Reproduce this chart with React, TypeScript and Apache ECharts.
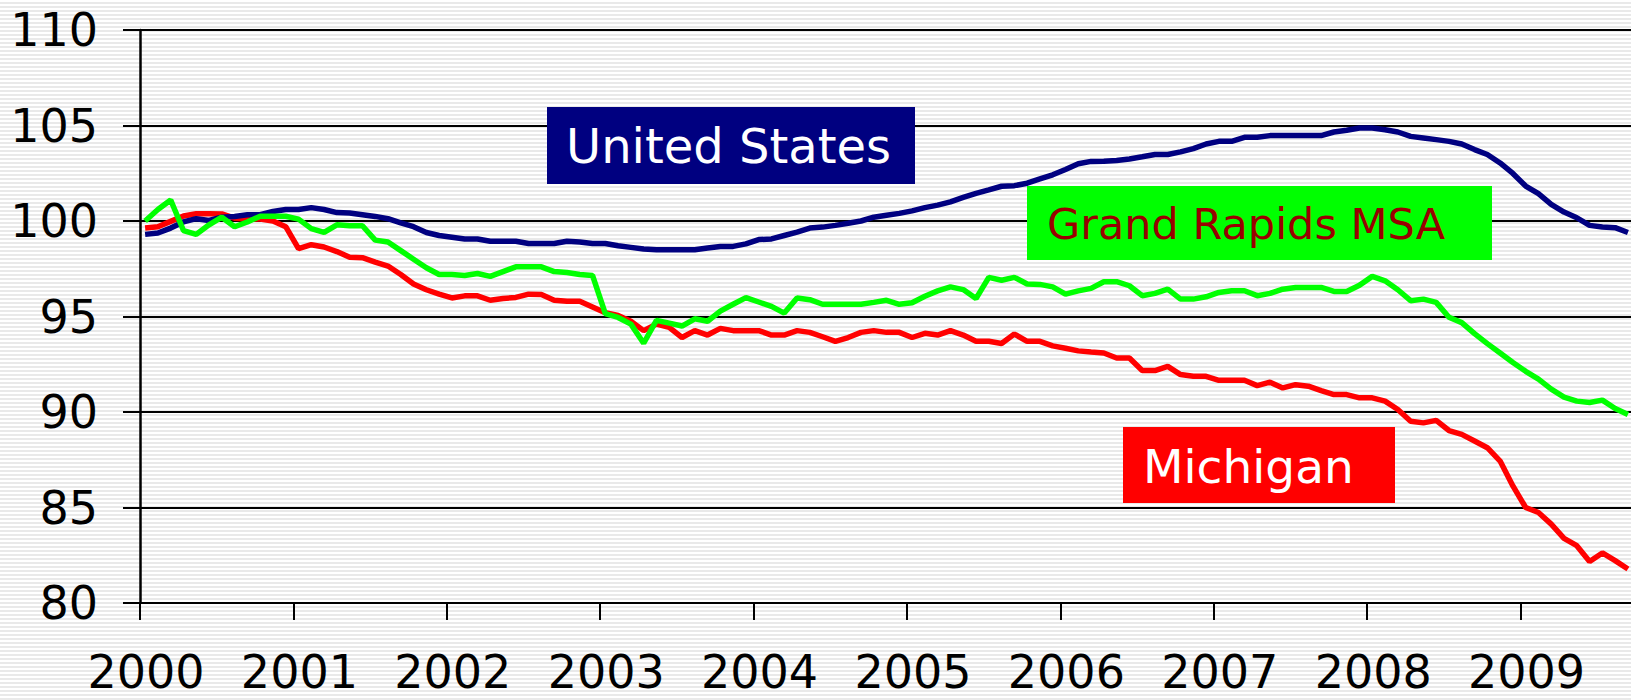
import React, { useEffect, useRef } from "react";
import * as echarts from "echarts";

// Monthly index values, Jan 2000 .. Sep 2009 (index, Jan 2000 = 100)
const startYear = 2000;
const yearTicks = [2000, 2001, 2002, 2003, 2004, 2005, 2006, 2007, 2008, 2009];
const yTicks = [80, 85, 90, 95, 100, 105, 110];

const unitedStates = [
  99.3, 99.37, 99.63, 99.95, 100.12, 100.03, 100.2, 100.24, 100.33, 100.33, 100.5, 100.6,
  100.6, 100.7, 100.6, 100.44, 100.42, 100.33, 100.24, 100.12, 99.9, 99.7, 99.4, 99.24,
  99.15, 99.06, 99.06, 98.94, 98.94, 98.94, 98.82, 98.82, 98.82, 98.94, 98.9, 98.82,
  98.82, 98.7, 98.62, 98.53, 98.5, 98.5, 98.5, 98.5, 98.59, 98.67, 98.67, 98.8,
  99.03, 99.06, 99.24, 99.42, 99.63, 99.68, 99.77, 99.88, 100.0, 100.2, 100.3, 100.4,
  100.53, 100.7, 100.83, 101.0, 101.24, 101.45, 101.63, 101.82, 101.85, 101.98, 102.2, 102.42,
  102.7, 103.0, 103.12, 103.13, 103.17, 103.25, 103.36, 103.48, 103.48, 103.62, 103.79, 104.03,
  104.17, 104.17, 104.38, 104.38, 104.47, 104.47, 104.47, 104.47, 104.47, 104.66, 104.75, 104.87,
  104.87, 104.78, 104.66, 104.43, 104.35, 104.26, 104.17, 104.03, 103.74, 103.48, 103.04, 102.49,
  101.83, 101.43, 100.87, 100.47, 100.17, 99.77, 99.69, 99.65, 99.4,
];

const grandRapids = [
  100.0, 100.6, 101.1, 99.5, 99.3, 99.8, 100.2, 99.7, 99.95, 100.25, 100.25, 100.25,
  100.1, 99.6, 99.4, 99.8, 99.75, 99.75, 99.0, 98.9, 98.45, 98.0, 97.55, 97.2,
  97.2, 97.15, 97.25, 97.1, 97.35, 97.6, 97.6, 97.6, 97.35, 97.3, 97.2, 97.15,
  95.15, 94.95, 94.6, 93.6, 94.8, 94.65, 94.5, 94.88, 94.75, 95.28, 95.64, 95.99,
  95.76, 95.53, 95.18, 95.97, 95.88, 95.64, 95.64, 95.64, 95.64, 95.74, 95.85, 95.64,
  95.72, 96.06, 96.34, 96.55, 96.41, 95.94, 97.05, 96.9, 97.05, 96.7, 96.68, 96.55,
  96.17, 96.34, 96.47, 96.82, 96.82, 96.61, 96.09, 96.21, 96.43, 95.91, 95.91, 96.03,
  96.26, 96.35, 96.35, 96.09, 96.21, 96.43, 96.52, 96.52, 96.52, 96.31, 96.31, 96.64,
  97.1, 96.87, 96.4, 95.83, 95.91, 95.74, 94.96, 94.68, 94.1, 93.58, 93.09, 92.59,
  92.13, 91.72, 91.2, 90.78, 90.57, 90.5, 90.62, 90.18, 89.87,
];

const michigan = [
  99.63, 99.7, 99.98, 100.26, 100.38, 100.38, 100.37, 100.15, 100.1, 100.1, 100.0, 99.7,
  98.55, 98.76, 98.64, 98.4, 98.1, 98.08, 97.85, 97.64, 97.2, 96.7, 96.4, 96.17,
  95.97, 96.08, 96.08, 95.85, 95.94, 96.0, 96.17, 96.15, 95.85, 95.8, 95.8, 95.5,
  95.2, 95.05, 94.75, 94.26, 94.6, 94.43, 93.9, 94.26, 94.03, 94.38, 94.26, 94.26,
  94.26, 94.03, 94.03, 94.26, 94.17, 93.94, 93.7, 93.9, 94.17, 94.26, 94.17, 94.17,
  93.9, 94.12, 94.03, 94.26, 94.03, 93.7, 93.7, 93.59, 94.08, 93.7, 93.7, 93.46,
  93.34, 93.2, 93.14, 93.09, 92.83, 92.83, 92.17, 92.17, 92.39, 91.96, 91.87, 91.87,
  91.66, 91.66, 91.66, 91.38, 91.56, 91.26, 91.43, 91.35, 91.12, 90.91, 90.91, 90.74,
  90.74, 90.57, 90.13, 89.52, 89.43, 89.56, 89.03, 88.83, 88.48, 88.13, 87.43, 86.13,
  85.0, 84.74, 84.13, 83.38, 83.0, 82.17, 82.62, 82.22, 81.78,
];

const FONT = "'DejaVu Sans', Verdana, sans-serif";

function toPoints(vals: number[]) {
  return vals.map((v, i) => [startYear + (i + 0.4) / 12, v]);
}

export default function App() {
  const ref = useRef<HTMLDivElement>(null);

  useEffect(() => {
    if (!ref.current) return;
    const chart = echarts.init(ref.current, undefined, { renderer: "svg" });
    chart.setOption({
      animation: false,
      backgroundColor: "transparent",
      grid: { left: 140, top: 30, right: 0, bottom: 97, containLabel: false },
      xAxis: {
        type: "value",
        min: 2000,
        max: 2009.72,
        interval: 1,
        axisLine: { show: true, onZero: false, lineStyle: { color: "#000", width: 2 } },
        axisTick: {
          show: true,
          length: 17,
          lineStyle: { color: "#000", width: 2 },
          customValues: yearTicks,
        },
        axisLabel: {
          customValues: yearTicks,
          formatter: (v: number) => String(Math.round(v)),
          fontSize: 46,
          fontFamily: FONT,
          color: "#000",
          margin: 46,
          padding: [0, 0, 0, 12],
        },
        splitLine: { show: false },
      },
      yAxis: {
        type: "value",
        min: 80,
        max: 110,
        interval: 5,
        axisLine: { show: true, lineStyle: { color: "#000", width: 2.5 } },
        axisTick: { show: true, length: 17, lineStyle: { color: "#000", width: 2 } },
        axisLabel: {
          customValues: yTicks,
          fontSize: 46,
          fontFamily: FONT,
          color: "#000",
          margin: 42,
        },
        splitLine: { show: true, lineStyle: { color: "#000", width: 2 } },
      },
      series: [
        {
          name: "Michigan",
          type: "line",
          data: toPoints(michigan),
          showSymbol: false,
          lineStyle: { color: "#ff0000", width: 5.5 },
          itemStyle: { color: "#ff0000" },
        },
        {
          name: "United States",
          type: "line",
          data: toPoints(unitedStates),
          showSymbol: false,
          lineStyle: { color: "#000080", width: 5.5 },
          itemStyle: { color: "#000080" },
        },
        {
          name: "Grand Rapids MSA",
          type: "line",
          data: toPoints(grandRapids),
          showSymbol: false,
          lineStyle: { color: "#00ff00", width: 5.5 },
          itemStyle: { color: "#00ff00" },
        },
      ],
      graphic: [
        {
          type: "rect",
          shape: { x: 547, y: 107, width: 368, height: 77 },
          style: { fill: "#000080" },
          z: 100,
        },
        {
          type: "text",
          x: 566,
          y: 146,
          style: {
            text: "United States",
            fill: "#ffffff",
            fontSize: 48,
            fontFamily: FONT,
            textVerticalAlign: "middle",
            textAlign: "left",
          },
          z: 101,
        },
        {
          type: "rect",
          shape: { x: 1027, y: 186, width: 465, height: 74 },
          style: { fill: "#00ff00" },
          z: 100,
        },
        {
          type: "text",
          x: 1047,
          y: 224,
          style: {
            text: "Grand Rapids MSA",
            fill: "#990000",
            fontSize: 43,
            fontFamily: FONT,
            textVerticalAlign: "middle",
            textAlign: "left",
          },
          z: 101,
        },
        {
          type: "rect",
          shape: { x: 1123, y: 427, width: 272, height: 76 },
          style: { fill: "#ff0000" },
          z: 100,
        },
        {
          type: "text",
          x: 1143,
          y: 466,
          style: {
            text: "Michigan",
            fill: "#ffffff",
            fontSize: 47,
            fontFamily: FONT,
            textVerticalAlign: "middle",
            textAlign: "left",
          },
          z: 101,
        },
      ],
    });
    return () => chart.dispose();
  }, []);

  return (
    <div
      style={{
        position: "absolute",
        left: 0,
        top: 0,
        width: 1631,
        height: 700,
        background:
          "repeating-linear-gradient(180deg, #ffffff 0px, #ffffff 2px, #e9e9e9 2px, #e9e9e9 4px)",
      }}
    >
      <div ref={ref} style={{ width: 1631, height: 700 }} />
    </div>
  );
}
